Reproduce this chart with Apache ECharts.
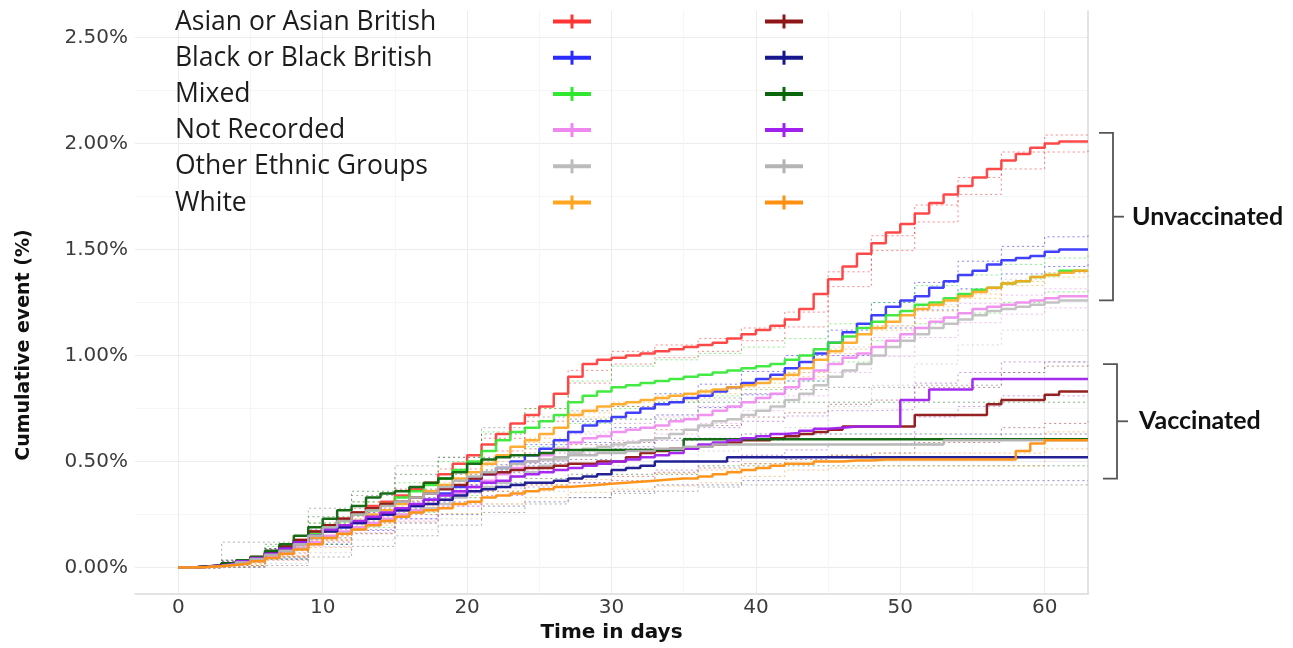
<!DOCTYPE html>
<html>
<head>
<meta charset="utf-8">
<script src="https://cdn.jsdelivr.net/npm/echarts@6/dist/echarts.min.js"></script>
<style>
html,body{margin:0;padding:0;background:#fff;}
#main{width:1293px;height:648px;}
</style>
</head>
<body>
<div id="main"></div>
<script>
// ---------- DATA ----------
const categories = ['Asian or Asian British','Black or Black British','Mixed','Not Recorded','Other Ethnic Groups','White'];
const xTickLabels = ['0','10','20','30','40','50','60'];
const yTickLabels = ['0.00%','0.50%','1.00%','1.50%','2.00%','2.50%'];
const groupLabels = ['Unvaccinated','Vaccinated'];
const unvaxBracket = [1.26, 2.05];
const vaxBracket = [0.42, 0.96];

const days = [0,1,2,3,4,5,6,7,8,9,10,11,12,13,14,15,16,17,18,19,20,21,22,23,24,25,26,27,28,29,30,31,32,33,34,35,36,37,38,39,40,41,42,43,44,45,46,47,48,49,50,51,52,53,54,55,56,57,58,59,60,61,62,63];
const ciDays = [0,3,6,9,12,15,18,21,24,27,30,33,36,39,42,45,48,51,54,57,60,63];

// Unvaccinated cumulative event (%)
const asianU = [0,0.005,0.01,0.02,0.03,0.05,0.07,0.10,0.13,0.17, 0.20,0.23,0.26,0.29,0.31,0.34,0.37,0.40,0.44,0.49, 0.53,0.58,0.63,0.68,0.72,0.76,0.82,0.90,0.96,0.98, 0.99,1.00,1.01,1.02,1.03,1.04,1.05,1.06,1.08,1.10, 1.12,1.14,1.17,1.22,1.29,1.36,1.42,1.48,1.53,1.58, 1.62,1.67,1.72,1.76,1.80,1.84,1.88,1.92,1.95,1.98, 2.00,2.01,2.01,2.01];
const blackU = [0,0.005,0.01,0.015,0.025,0.04,0.06,0.08,0.11,0.14, 0.17,0.19,0.21,0.23,0.25,0.27,0.29,0.32,0.35,0.38, 0.41,0.44,0.47,0.50,0.53,0.56,0.60,0.64,0.67,0.69, 0.71,0.73,0.75,0.77,0.78,0.80,0.81,0.83,0.85,0.87, 0.89,0.91,0.94,0.97,1.01,1.06,1.11,1.15,1.19,1.23, 1.26,1.28,1.32,1.35,1.38,1.40,1.43,1.45,1.46,1.47, 1.49,1.50,1.50,1.50];
const mixedU = [0,0.005,0.01,0.02,0.03,0.05,0.07,0.09,0.12,0.16, 0.19,0.22,0.25,0.27,0.30,0.33,0.36,0.39,0.42,0.46, 0.50,0.55,0.60,0.64,0.66,0.69,0.72,0.78,0.81,0.83, 0.85,0.86,0.87,0.88,0.89,0.90,0.91,0.92,0.93,0.94, 0.95,0.96,0.98,1.00,1.03,1.06,1.09,1.13,1.16,1.19, 1.21,1.24,1.25,1.27,1.29,1.31,1.32,1.34,1.35,1.37, 1.38,1.40,1.40,1.40];
const notRecU = [0,0.004,0.008,0.014,0.022,0.035,0.05,0.07,0.095,0.12, 0.15,0.17,0.19,0.21,0.23,0.25,0.27,0.30,0.32,0.35, 0.38,0.41,0.44,0.47,0.50,0.53,0.56,0.59,0.61,0.62, 0.64,0.65,0.66,0.67,0.69,0.70,0.72,0.74,0.76,0.78, 0.80,0.82,0.85,0.89,0.93,0.96,0.99,1.01,1.04,1.07, 1.10,1.13,1.16,1.18,1.20,1.22,1.23,1.24,1.25,1.26, 1.27,1.28,1.28,1.28];
const otherU = [0,0.004,0.008,0.013,0.02,0.03,0.045,0.065,0.09,0.11, 0.14,0.16,0.18,0.20,0.22,0.24,0.26,0.28,0.30,0.33, 0.36,0.38,0.40,0.43,0.45,0.48,0.51,0.54,0.56,0.57, 0.58,0.59,0.60,0.61,0.63,0.65,0.67,0.69,0.70,0.72, 0.74,0.76,0.79,0.82,0.86,0.90,0.93,0.96,1.00,1.04, 1.07,1.10,1.13,1.15,1.17,1.19,1.21,1.22,1.23,1.24, 1.25,1.26,1.26,1.26];
const whiteU = [0,0.003,0.008,0.015,0.025,0.04,0.06,0.08,0.11,0.14, 0.17,0.20,0.22,0.25,0.27,0.30,0.33,0.36,0.39,0.42, 0.45,0.49,0.53,0.57,0.60,0.63,0.66,0.72,0.74,0.76, 0.77,0.78,0.79,0.80,0.81,0.82,0.83,0.84,0.85,0.86, 0.87,0.89,0.91,0.94,0.98,1.02,1.06,1.10,1.13,1.16, 1.19,1.22,1.24,1.26,1.28,1.30,1.32,1.34,1.35,1.37, 1.38,1.39,1.40,1.40];

// Vaccinated cumulative event (%)
const asianV = [0,0.005,0.01,0.02,0.03,0.05,0.07,0.10,0.13,0.17, 0.20,0.23,0.26,0.28,0.30,0.31,0.33,0.35,0.37,0.39, 0.42,0.44,0.45,0.46,0.47,0.47,0.48,0.49,0.49,0.50, 0.50,0.52,0.54,0.55,0.56,0.56,0.57,0.58,0.59,0.60, 0.60,0.61,0.62,0.63,0.64,0.65,0.665,0.665,0.665,0.665, 0.665,0.72,0.72,0.72,0.72,0.72,0.77,0.79,0.79,0.79, 0.815,0.83,0.83,0.83];
const blackV = [0,0.004,0.01,0.02,0.03,0.045,0.065,0.09,0.12,0.15, 0.17,0.19,0.21,0.23,0.25,0.27,0.29,0.30,0.32,0.34, 0.36,0.37,0.38,0.39,0.40,0.40,0.41,0.42,0.43,0.44, 0.46,0.47,0.48,0.50,0.50,0.50,0.50,0.50,0.52,0.52, 0.52,0.52,0.52,0.52,0.52,0.52,0.52,0.52,0.52,0.52, 0.52,0.52,0.52,0.52,0.52,0.52,0.52,0.52,0.52,0.52, 0.52,0.52,0.52,0.52];
const mixedV = [0,0.005,0.01,0.02,0.035,0.05,0.08,0.11,0.15,0.19, 0.23,0.27,0.29,0.33,0.35,0.36,0.38,0.40,0.42,0.45, 0.49,0.51,0.52,0.53,0.53,0.54,0.555,0.555,0.555,0.555, 0.555,0.555,0.555,0.555,0.555,0.605,0.605,0.605,0.605,0.605, 0.605,0.605,0.605,0.605,0.605,0.605,0.605,0.605,0.605,0.605, 0.605,0.605,0.605,0.605,0.605,0.605,0.605,0.605,0.605,0.605, 0.605,0.605,0.605,0.605];
const notRecV = [0,0.004,0.01,0.018,0.03,0.045,0.065,0.09,0.12,0.15, 0.18,0.20,0.22,0.24,0.26,0.28,0.30,0.32,0.34,0.36, 0.38,0.40,0.41,0.43,0.44,0.45,0.46,0.47,0.48,0.49, 0.50,0.51,0.52,0.53,0.54,0.56,0.58,0.59,0.60,0.61, 0.62,0.63,0.635,0.645,0.655,0.66,0.665,0.665,0.665,0.665, 0.79,0.79,0.84,0.84,0.84,0.89,0.89,0.89,0.89,0.89, 0.89,0.89,0.89,0.89];
const otherV = [0,0.003,0.008,0.015,0.025,0.04,0.06,0.08,0.11,0.15, 0.19,0.22,0.25,0.27,0.29,0.31,0.33,0.35,0.38,0.41, 0.43,0.45,0.47,0.49,0.50,0.51,0.52,0.53,0.53,0.54, 0.54,0.55,0.55,0.56,0.56,0.57,0.57,0.58,0.58,0.58, 0.58,0.58,0.58,0.58,0.58,0.58,0.58,0.58,0.58,0.58, 0.58,0.58,0.58,0.60,0.60,0.60,0.60,0.60,0.60,0.60, 0.60,0.60,0.60,0.60];
const whiteV = [0,0.003,0.007,0.012,0.02,0.03,0.045,0.065,0.085,0.11, 0.14,0.16,0.18,0.20,0.22,0.24,0.26,0.27,0.28,0.30, 0.31,0.33,0.34,0.35,0.36,0.37,0.38,0.385,0.39,0.395, 0.40,0.405,0.41,0.415,0.42,0.42,0.43,0.44,0.45,0.46, 0.47,0.48,0.49,0.49,0.50,0.50,0.505,0.505,0.51,0.51, 0.51,0.51,0.51,0.51,0.51,0.51,0.51,0.51,0.55,0.585, 0.60,0.60,0.60,0.60];

// Confidence bands (lower / upper), read at ciDays
const asianULo = [0,0.01,0.055,0.15,0.24,0.315,0.415,0.55,0.69,0.87,0.96,0.99,1.02,1.07,1.135,1.325,1.495,1.63,1.76,1.88,1.96,1.97];
const asianUHi = [0,0.03,0.085,0.19,0.28,0.365,0.465,0.61,0.75,0.93,1.02,1.05,1.08,1.13,1.205,1.395,1.565,1.71,1.84,1.96,2.04,2.05];
const blackULo = [0,0.005,0.04,0.11,0.175,0.23,0.31,0.395,0.48,0.59,0.66,0.72,0.755,0.815,0.88,1.00,1.13,1.215,1.315,1.385,1.42,1.43];
const blackUHi = [0,0.025,0.08,0.17,0.245,0.31,0.39,0.485,0.58,0.69,0.76,0.82,0.865,0.925,1.00,1.12,1.25,1.345,1.445,1.515,1.56,1.57];
const mixedULo = [0,0.01,0.04,0.11,0.19,0.26,0.34,0.46,0.57,0.68,0.75,0.78,0.81,0.84,0.88,0.97,1.07,1.15,1.20,1.25,1.30,1.32];
const mixedUHi = [0,0.03,0.10,0.21,0.31,0.40,0.50,0.64,0.75,0.88,0.95,0.98,1.01,1.04,1.08,1.15,1.25,1.33,1.38,1.43,1.46,1.48];
const notRecULo = [0,0.005,0.035,0.10,0.165,0.22,0.29,0.375,0.46,0.55,0.60,0.63,0.68,0.74,0.81,0.92,0.995,1.085,1.155,1.195,1.225,1.235];
const notRecUHi = [0,0.025,0.065,0.14,0.215,0.28,0.35,0.445,0.54,0.63,0.68,0.71,0.76,0.82,0.89,1.00,1.085,1.175,1.245,1.285,1.315,1.325];
const otherULo = [0,0.005,0.02,0.07,0.13,0.18,0.23,0.30,0.36,0.44,0.48,0.50,0.55,0.60,0.66,0.76,0.86,0.96,1.05,1.12,1.12,1.12];
const otherUHi = [0,0.025,0.07,0.15,0.23,0.30,0.37,0.46,0.54,0.64,0.68,0.72,0.79,0.84,0.92,1.04,1.14,1.24,1.31,1.36,1.39,1.40];
const whiteULo = [0,0.01,0.05,0.13,0.21,0.29,0.38,0.48,0.59,0.71,0.76,0.79,0.82,0.85,0.90,1.01,1.12,1.21,1.27,1.33,1.37,1.39];
const whiteUHi = [0,0.02,0.07,0.15,0.23,0.31,0.40,0.50,0.61,0.73,0.78,0.81,0.84,0.87,0.92,1.03,1.14,1.23,1.29,1.35,1.39,1.41];

const asianVLo = [0,0.01,0.05,0.13,0.21,0.25,0.30,0.36,0.39,0.40,0.41,0.45,0.47,0.49,0.51,0.53,0.54,0.59,0.59,0.66,0.68,0.69];
const asianVHi = [0,0.03,0.09,0.21,0.31,0.37,0.44,0.52,0.56,0.58,0.59,0.65,0.67,0.71,0.73,0.77,0.79,0.85,0.85,0.92,0.95,0.97];
const blackVLo = [0,0.005,0.04,0.11,0.16,0.21,0.25,0.29,0.31,0.33,0.36,0.39,0.39,0.41,0.41,0.41,0.41,0.41,0.41,0.41,0.41,0.41];
const blackVHi = [0,0.035,0.09,0.19,0.26,0.33,0.39,0.45,0.49,0.51,0.56,0.61,0.61,0.63,0.63,0.63,0.63,0.63,0.63,0.63,0.63,0.63];
const mixedVLo = [0,0.005,0.05,0.14,0.22,0.28,0.33,0.40,0.42,0.44,0.44,0.44,0.48,0.48,0.48,0.48,0.48,0.48,0.48,0.48,0.48,0.48];
const mixedVHi = [0,0.035,0.11,0.24,0.36,0.44,0.52,0.63,0.66,0.70,0.70,0.70,0.78,0.78,0.78,0.78,0.78,0.78,0.78,0.78,0.78,0.78];
const notRecVLo = [0,0.01,0.045,0.12,0.18,0.23,0.29,0.34,0.38,0.40,0.43,0.46,0.50,0.53,0.555,0.58,0.585,0.71,0.76,0.81,0.81,0.81];
const notRecVHi = [0,0.03,0.085,0.18,0.26,0.33,0.39,0.46,0.50,0.54,0.57,0.60,0.66,0.69,0.715,0.74,0.745,0.87,0.92,0.97,0.97,0.97];
const otherVLo = [0,0,0.01,0.05,0.10,0.15,0.20,0.26,0.30,0.33,0.35,0.36,0.38,0.39,0.39,0.39,0.39,0.39,0.39,0.39,0.39,0.39];
const otherVHi = [0,0.12,0.12,0.28,0.34,0.48,0.52,0.66,0.71,0.74,0.76,0.78,0.80,0.82,0.84,0.85,0.85,0.86,0.86,0.92,0.97,0.97];
const whiteVLo = [0,0.008,0.035,0.095,0.16,0.215,0.255,0.30,0.33,0.355,0.37,0.385,0.40,0.43,0.46,0.47,0.48,0.48,0.48,0.48,0.56,0.56];
const whiteVHi = [0,0.016,0.055,0.125,0.20,0.265,0.305,0.36,0.39,0.415,0.43,0.445,0.46,0.49,0.52,0.53,0.54,0.54,0.54,0.54,0.64,0.64];

// ---------- STYLE ----------
const unvaxColors = ['#ff3535','#2b2bff','#2fe82f','#ee88ee','#bcbcbc','#ffa51f'];
const vaxColors   = ['#8e1616','#16168e','#0b650b','#a020f0','#b4b4b4','#ff8f10'];
const ciVaxColors = ['#a04040','#4040a0','#2e7a2e','#a850e0','#7a7a7a','#ff9a30'];

const unvaxMain = [asianU, blackU, mixedU, notRecU, otherU, whiteU];
const vaxMain   = [asianV, blackV, mixedV, notRecV, otherV, whiteV];
const unvaxLo = [asianULo, blackULo, mixedULo, notRecULo, otherULo, whiteULo];
const unvaxHi = [asianUHi, blackUHi, mixedUHi, notRecUHi, otherUHi, whiteUHi];
const vaxLo = [asianVLo, blackVLo, mixedVLo, notRecVLo, otherVLo, whiteVLo];
const vaxHi = [asianVHi, blackVHi, mixedVHi, notRecVHi, otherVHi, whiteVHi];

function pairs(xs, ys){ return xs.map((x,i)=>[x, ys[i]]); }

const series = [];
function ciSeries(name, xs, ys, color){
  series.push({
    name: name, type:'line', step:'end', symbol:'none', silent:true, z:2,
    data: pairs(xs, ys),
    lineStyle:{color:color, width:1, type:[2,3], opacity:0.6}
  });
}
for (let i=0;i<6;i++){
  ciSeries(categories[i]+' unvax lower', ciDays, unvaxLo[i], unvaxColors[i]);
  ciSeries(categories[i]+' unvax upper', ciDays, unvaxHi[i], unvaxColors[i]);
  ciSeries(categories[i]+' vax lower', ciDays, vaxLo[i], ciVaxColors[i]);
  ciSeries(categories[i]+' vax upper', ciDays, vaxHi[i], ciVaxColors[i]);
}
for (let i=0;i<6;i++){
  series.push({
    name: categories[i]+' (vaccinated)', type:'line', step:'end', symbol:'none', z:4,
    data: pairs(days, vaxMain[i]),
    itemStyle:{color:vaxColors[i]},
    lineStyle:{color:vaxColors[i], width:2.5, opacity:0.95}
  });
}
for (let i=0;i<6;i++){
  series.push({
    name: categories[i], type:'line', step:'end', symbol:'none', z:3,
    data: pairs(days, unvaxMain[i]),
    itemStyle:{color:unvaxColors[i]},
    lineStyle:{color:unvaxColors[i], width:2.5, opacity:0.9}
  });
}

const NONE = 'rgba(0,0,0,0)';
const MAJ = '#ececec';
const MIN = '#f5f5f5';

const chart = echarts.init(document.getElementById('main'));
chart.setOption({
  animation:false,
  backgroundColor:'#ffffff',
  grid:{left:135, right:205, top:11, bottom:51, containLabel:false},
  xAxis:{
    type:'value', min:-3, max:63, interval:1,
    name:'Time in days', nameLocation:'middle', nameGap:27,
    nameTextStyle:{fontFamily:'DejaVu Sans', fontWeight:'bold', fontSize:20, color:'#111'},
    axisLine:{show:true, onZero:false, lineStyle:{color:'#dadada', width:1.5}},
    axisTick:{show:false},
    axisLabel:{
      margin:4, fontFamily:'DejaVu Sans', fontSize:20, color:'#3c3c3c',
      formatter:function(v){ const r=Math.round(v); const s=String(r); return (r%10===0 && xTickLabels.indexOf(s)>=0)? s : ''; }
    },
    splitLine:{show:true, lineStyle:{width:1, color:[NONE,NONE,NONE,MAJ,NONE,NONE,NONE,NONE,MIN,NONE]}}
  },
  yAxis:[{
    type:'value', min:-0.125, max:2.625, interval:0.125,
    axisLine:{show:false}, axisTick:{show:false},
    axisLabel:{
      margin:7, fontFamily:'DejaVu Sans', fontSize:20, color:'#3c3c3c',
      formatter:function(v){ const k=Math.round(v*1000); if(k<0 || k%500!==0) return ''; const s=(k/1000).toFixed(2)+'%'; return yTickLabels.indexOf(s)>=0? s : ''; }
    },
    splitLine:{show:true, lineStyle:{width:1, color:[NONE,MAJ,NONE,MIN]}}
  },{
    type:'value', min:-0.125, max:2.625, position:'right',
    axisLine:{show:true, lineStyle:{color:'#dadada', width:1.5}},
    axisTick:{show:false}, axisLabel:{show:false}, splitLine:{show:false}
  }],
  series: series
});

// ---------- ANNOTATIONS (legend, brackets, y title) ----------
const g = [];
const rowTop = 22, rowGap = 36.2;
for (let i=0;i<6;i++){
  const y = rowTop + i*rowGap;
  g.push({type:'text', x:175, y:y, style:{text:categories[i], font:'26.5px "Open Sans"', fill:'#1c1c1c', align:'left', verticalAlign:'middle'}});
  [[572, unvaxColors[i]],[784, vaxColors[i]]].forEach(function(c){
    const cx=c[0], cy=y-0.5;
    g.push({type:'rect', shape:{x:cx-19, y:cy-2, width:38, height:4}, style:{fill:c[1]}});
    g.push({type:'rect', shape:{x:cx-1.5, y:cy-7, width:3, height:14}, style:{fill:c[1]}});
  });
}
g.push({type:'text', x:24, y:345, rotation:Math.PI/2,
  style:{text:'Cumulative event (%)', font:'bold 19px "DejaVu Sans"', fill:'#111', align:'center', verticalAlign:'middle'}});

function bracket(range, xv, label, tx){
  const yTop = chart.convertToPixel({yAxisIndex:0}, range[1]);
  const yBot = chart.convertToPixel({yAxisIndex:0}, range[0]);
  const yMid = (yTop+yBot)/2;
  g.push({type:'polyline', shape:{points:[[xv-14,yTop],[xv,yTop],[xv,yBot],[xv-14,yBot]]}, style:{stroke:'#555', lineWidth:1.8, fill:null}});
  g.push({type:'line', shape:{x1:xv, y1:yMid, x2:xv+11, y2:yMid}, style:{stroke:'#555', lineWidth:1.8}});
  g.push({type:'text', x:tx, y:yMid, style:{text:label, font:'bold 25px Lato', fill:'#111', align:'left', verticalAlign:'middle'}});
}
bracket(unvaxBracket, 1113, groupLabels[0], 1132);
bracket(vaxBracket, 1117, groupLabels[1], 1139);

chart.setOption({graphic:{elements:g}});
</script>
</body>
</html>
